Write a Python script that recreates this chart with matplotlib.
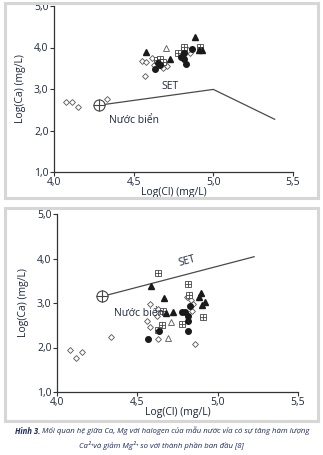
import matplotlib
matplotlib.use("Agg")
import matplotlib.pyplot as plt
from matplotlib.patches import Rectangle

FONT = ["Liberation Sans Narrow", "Open Sans", "DejaVu Sans"]
plt.rcParams["font.family"] = FONT
TXT = "#1f2740"
MK = "#1a1a1a"

# ---- Panel 1: Log(Ca) vs Log(Cl) with SET line (evaporation trend) ----
top_diamond_x = [4.078, 4.110, 4.152, 4.332, 4.550, 4.577, 4.573, 4.613, 4.649, 4.712, 4.681, 4.628, 4.854, 4.839, 4.808]
top_diamond_y = [2.694, 2.694, 2.556, 2.766, 3.685, 3.653, 3.323, 3.742, 3.556, 3.556, 3.500, 3.581, 3.863, 3.944, 3.823]
top_circle_x = [4.632, 4.666, 4.653, 4.814, 4.829, 4.865, 4.797, 4.818]
top_circle_y = [3.484, 3.581, 3.637, 3.718, 3.597, 3.968, 3.766, 3.863]
top_tri_x = [4.579, 4.727, 4.886, 4.909, 4.930]
top_tri_y = [3.887, 3.718, 4.250, 3.944, 3.944]
top_otri_x = [4.706]
top_otri_y = [4.000]
top_sqplus_x = [4.649, 4.666, 4.687, 4.776, 4.814, 4.818, 4.915]
top_sqplus_y = [3.702, 3.718, 3.661, 3.879, 3.944, 4.008, 4.024]
top_sea = (4.283, 2.61)
top_set_x = [4.283, 5.0, 5.385]
top_set_y = [2.61, 2.99, 2.27]

# ---- Panel 2 ----
bot_diamond_x = [4.083, 4.116, 4.156, 4.335, 4.578, 4.630, 4.620, 4.558, 4.578, 4.630, 4.807, 4.832, 4.849, 4.838, 4.861]
bot_diamond_y = [1.935, 1.770, 1.890, 2.241, 2.981, 2.862, 2.712, 2.600, 2.450, 2.189, 3.146, 3.071, 2.981, 2.809, 2.077]
bot_circle_x = [4.568, 4.637, 4.776, 4.799, 4.818, 4.818, 4.818, 4.828]
bot_circle_y = [2.196, 2.376, 2.787, 2.802, 2.712, 2.593, 2.376, 2.936]
bot_tri_x = [4.582, 4.668, 4.724, 4.676, 4.899, 4.886, 4.920, 4.901]
bot_tri_y = [3.385, 3.123, 2.802, 2.772, 3.221, 3.146, 3.026, 2.951]
bot_otri_x = [4.709, 4.689]
bot_otri_y = [2.563, 2.211]
bot_sqplus_x = [4.626, 4.818, 4.824, 4.662, 4.651, 4.630, 4.776, 4.907]
bot_sqplus_y = [3.684, 3.430, 3.183, 2.824, 2.510, 2.383, 2.518, 2.675]
bot_sea = (4.283, 3.15)
bot_set_x = [4.283, 5.227]
bot_set_y = [3.15, 4.04]

x_ticks = [4.0, 4.5, 5.0, 5.5]
x_ticklabels = ["4,0", "4,5", "5,0", "5,5"]
y_ticks = [1.0, 2.0, 3.0, 4.0, 5.0]
y_ticklabels = ["1,0", "2,0", "3,0", "4,0", "5,0"]

fig = plt.figure(figsize=(3.23, 4.55), dpi=100)
W, H = 323, 455


def fig_rect(x0, y0, x1, y1):
    return [x0 / W, 1 - y1 / H, (x1 - x0) / W, (y1 - y0) / H]


# light grey frames around each panel
for (x0, y0, x1, y1) in [(5, 3, 318, 198), (5, 208, 318, 421)]:
    r = fig_rect(x0, y0, x1, y1)
    fig.patches.append(Rectangle((r[0], r[1]), r[2], r[3], transform=fig.transFigure,
                                 fill=False, edgecolor="#d6d6d6", linewidth=2.2))


def draw_panel(ax, d, sea, set_x, set_y):
    ax.set_xlim(4.0, 5.5)
    ax.set_ylim(1.0, 5.0)
    for s in ("top", "right"):
        ax.spines[s].set_visible(False)
    for s in ("left", "bottom"):
        ax.spines[s].set_color("#333333")
        ax.spines[s].set_linewidth(0.9)
    ax.set_xticks(x_ticks)
    ax.set_xticklabels(x_ticklabels)
    ax.set_yticks(y_ticks)
    ax.set_yticklabels(y_ticklabels)
    ax.tick_params(direction="out", length=3, width=0.8, color="#333333",
                   labelsize=7.5, labelcolor=TXT, pad=1)
    ax.tick_params(axis="x", pad=0.5)
    ax.set_xlabel("Log(Cl) (mg/L)", fontsize=7.5, color=TXT, labelpad=-0.5)
    ax.set_ylabel("Log(Ca) (mg/L)", fontsize=7.5, color=TXT, labelpad=6)
    ax.patch.set_alpha(0)

    ax.plot(set_x, set_y, color="#4a4a4a", lw=0.9, zorder=2)
    ax.plot(*sea, marker="o", ms=8, mfc="white", mec="#444444", mew=0.8, zorder=3)
    ax.plot(*sea, marker="+", ms=8, mec="#444444", mew=0.8, zorder=4)

    ax.plot(d["dx"], d["dy"], ls="none", marker="D", ms=3.0, mfc="white", mec="#555555", mew=0.6, zorder=3)
    ax.plot(d["ox"], d["oy"], ls="none", marker="^", ms=3.8, mfc="white", mec="#555555", mew=0.6, zorder=3)
    ax.plot(d["sx"], d["sy"], ls="none", marker="s", ms=4.0, mfc="white", mec="#444444", mew=0.6, zorder=4)
    ax.plot(d["sx"], d["sy"], ls="none", marker="+", ms=4.0, mec="#444444", mew=0.6, zorder=5)
    ax.plot(d["cx"], d["cy"], ls="none", marker="o", ms=4.0, mfc=MK, mec=MK, zorder=5)
    ax.plot(d["tx"], d["ty"], ls="none", marker="^", ms=4.3, mfc=MK, mec=MK, zorder=5)


ax1 = fig.add_axes(fig_rect(54, 6, 293, 172))
draw_panel(ax1, dict(dx=top_diamond_x, dy=top_diamond_y, cx=top_circle_x, cy=top_circle_y,
                     tx=top_tri_x, ty=top_tri_y, ox=top_otri_x, oy=top_otri_y,
                     sx=top_sqplus_x, sy=top_sqplus_y), top_sea, top_set_x, top_set_y)
ax1.text(4.73, 3.07, "SET", fontsize=7.5, color=TXT, ha="center", va="center")
ax1.text(4.5, 2.23, "Nước biển", fontsize=7.5, color=TXT, ha="center", va="center")

ax2 = fig.add_axes(fig_rect(57, 214, 298, 392))
draw_panel(ax2, dict(dx=bot_diamond_x, dy=bot_diamond_y, cx=bot_circle_x, cy=bot_circle_y,
                     tx=bot_tri_x, ty=bot_tri_y, ox=bot_otri_x, oy=bot_otri_y,
                     sx=bot_sqplus_x, sy=bot_sqplus_y), bot_sea, bot_set_x, bot_set_y)
ax2.text(4.81, 3.93, "SET", fontsize=7.5, color=TXT, ha="center", va="center", rotation=16)
ax2.text(4.355, 2.77, "Nước biển", fontsize=7.5, color=TXT, ha="left", va="center", zorder=6)

# caption: bold figure number followed by italic text, the first line spanning x=30..318 px
CAP = "#1c2a5e"
cap1_bold = "Hình 3."
cap1_rest = " Mối quan hệ giữa Ca, Mg với halogen của mẫu nước vỉa có sự tăng hàm lượng"
cap2 = "Ca²⁺và giảm Mg²⁺ so với thành phần ban đầu [8]"
y1 = 1 - 431 / H
fs = 6.6
t1 = fig.text(0, y1, cap1_bold, fontsize=fs, color=CAP, style="italic",
              weight="bold", ha="left", va="center")
t2 = fig.text(0, y1, cap1_rest, fontsize=fs, color=CAP, style="italic", ha="left", va="center")
fig.canvas.draw()
r = fig.canvas.get_renderer()
total = t1.get_window_extent(r).width + t2.get_window_extent(r).width
fs = fs * 292 / total
t1.set_fontsize(fs)
t2.set_fontsize(fs)
fig.canvas.draw()
w1 = t1.get_window_extent(r).width
w2 = t2.get_window_extent(r).width
x0 = (W - (w1 + w2)) / 2 + 1
t1.set_x(x0 / W)
t2.set_x((x0 + w1) / W)
fig.text(0.5, 1 - 445 / H, cap2, fontsize=fs,
         color=CAP, style="italic", ha="center", va="center")

fig.savefig("out.png", dpi=100)
